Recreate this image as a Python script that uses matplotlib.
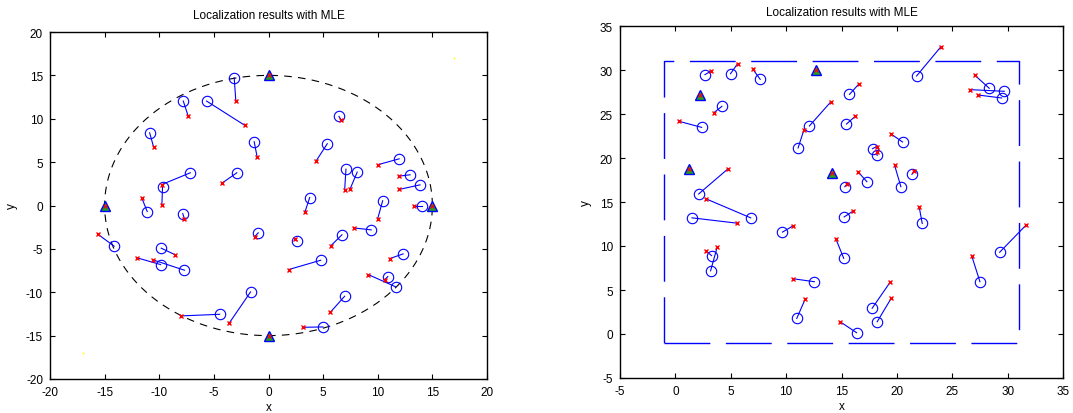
import numpy as np
import matplotlib
matplotlib.use("Agg")
import matplotlib.pyplot as plt

plt.rcParams['font.family'] = ['Liberation Sans', 'DejaVu Sans']
plt.rcParams['font.size'] = 8.5
plt.rcParams['axes.unicode_minus'] = False
plt.rcParams['lines.scale_dashes'] = False

# Left scenario: anchors on a circle of radius 15
circle_radius = 15
left_anchor_x = [-15, 0, 15, 0]
left_anchor_y = [0, 15, 0, -15]
left_corner_x = [-17, 17]
left_corner_y = [-17, 17]

# node positions (circles) and MLE estimates (crosses)
left_node_x = [-3.14, -7.8, -5.67, -10.88, -1.31, -7.16, -9.7, -2.9, -11.1, -7.85,
               -0.94, -14.13, -9.82, -9.88, -7.69, -1.64, -4.47, 6.45, 5.38, 11.96,
               7.09, 8.12, 12.96, 13.87, 3.77, 10.45, 14.06, 9.4, 6.72, 2.62,
               4.78, 12.32, 10.92, 11.65, 6.97, 4.99]
left_node_y = [14.73, 12.04, 12.04, 8.38, 7.35, 3.77, 2.1, 3.77, -0.7, -0.94,
               -3.15, -4.69, -4.92, -6.81, -7.46, -9.96, -12.54, 10.27, 7.12, 5.38,
               4.19, 3.85, 3.54, 2.38, 0.92, 0.55, 0.0, -2.81, -3.38, -4.08,
               -6.31, -5.58, -8.19, -9.38, -10.46, -14.0]
left_est_x = [-2.99, -7.35, -2.16, -10.52, -1.04, -9.76, -9.76, -4.3, -11.6, -7.7,
              -1.28, -15.62, -8.6, -12.0, -10.58, -3.62, -8.05, 6.66, 4.35, 9.98,
              6.97, 7.45, 11.9, 11.96, 3.35, 10.0, 13.36, 7.79, 5.72, 2.4,
              1.86, 11.1, 10.65, 9.13, 5.66, 3.13]
left_est_y = [12.04, 10.3, 9.23, 6.77, 5.6, 2.42, 0.1, 2.54, 0.88, -1.5,
              -3.62, -3.31, -5.65, -6.04, -6.27, -13.6, -12.73, 9.85, 5.12, 4.69,
              1.77, 1.85, 3.38, 1.85, -0.7, -1.5, 0.0, -2.58, -4.62, -3.85,
              -7.38, -6.12, -8.54, -7.96, -12.31, -14.04]

# Right scenario: anchors inside a 32 x 32 region
region_lo, region_hi = -1, 31
right_anchor_x = [12.73, 2.25, 1.26, 14.11]
right_anchor_y = [29.96, 27.16, 18.71, 18.26]

right_node_x = [2.67, 4.98, 7.66, 4.2, 2.37, 12.1, 11.08, 2.1, 6.8, 1.5,
                15.3, 21.78, 15.72, 15.45, 28.34, 29.7, 29.46, 20.51, 17.8, 18.22,
                17.29, 20.36, 21.36, 15.24, 22.29, 9.67, 3.27, 3.18, 12.55, 10.96,
                15.2, 29.28, 27.5, 17.77, 18.22, 16.36]
right_node_y = [29.47, 29.58, 28.94, 25.87, 23.48, 23.64, 21.14, 15.91, 13.2, 13.2,
                16.74, 29.32, 27.23, 23.86, 27.92, 27.58, 26.82, 21.82, 21.06, 20.3,
                17.31, 16.74, 18.14, 13.3, 12.56, 11.58, 8.91, 7.18, 5.94, 1.77,
                8.6, 9.29, 5.94, 2.93, 1.39, 0.15]
right_est_x = [3.24, 5.62, 7.0, 3.48, 0.33, 14.05, 11.59, 4.77, 2.73, 5.6,
               15.5, 23.98, 16.54, 16.23, 27.02, 26.57, 27.32, 19.43, 18.19, 18.19,
               16.48, 19.79, 21.54, 16.08, 22.02, 10.63, 2.73, 3.78, 10.63, 11.74,
               14.5, 31.66, 26.75, 19.4, 19.49, 14.88]
right_est_y = [29.89, 30.72, 30.08, 25.15, 24.17, 26.4, 23.14, 18.79, 15.38, 12.59,
               17.05, 32.65, 28.37, 24.73, 29.43, 27.77, 27.16, 22.77, 21.29, 20.68,
               18.45, 19.2, 18.56, 14.0, 14.4, 12.29, 9.47, 9.89, 6.28, 4.02,
               10.79, 12.37, 8.91, 5.9, 4.06, 1.39]


def draw_results(ax, node_x, node_y, est_x, est_y, anchor_x, anchor_y):
    # error line from each node to its estimate
    for cx, cy, ex, ey in zip(node_x, node_y, est_x, est_y):
        ax.plot([cx, ex], [cy, ey], '-', color='blue', lw=0.8)
    ax.plot(node_x, node_y, 'o', mfc='none', mec='blue', ms=7.5, mew=0.8)
    ax.plot(est_x, est_y, 'x', color='red', ms=3.5, mew=1.0)
    # anchors: green triangle with a red cross on top
    ax.plot(anchor_x, anchor_y, '^', mfc='#20a020', mec='blue', ms=7, mew=1.0)
    ax.plot(anchor_x, anchor_y, 'x', color='red', ms=3, mew=0.8)


def style_axes(ax, lim, ticks, title_pad):
    ax.set_xlim(lim)
    ax.set_ylim(lim)
    ax.set_xticks(ticks)
    ax.set_yticks(ticks)
    ax.tick_params(direction='in', length=3.5, width=0.8, top=True, right=True,
                   labelsize=8.5, pad=5)
    for s in ax.spines.values():
        s.set_linewidth(1.0)
    ax.set_title('Localization results with MLE', fontsize=8.5, pad=title_pad)
    ax.set_xlabel('x', fontsize=8.5, labelpad=2)
    ax.set_ylabel('y', fontsize=8.5, labelpad=6)


fig = plt.figure(figsize=(10.73, 4.14), dpi=100)

# Left plot
ax1 = fig.add_axes([50 / 1073, 34 / 414, 437 / 1073, 347 / 414])
theta = np.linspace(0, 2 * np.pi, 400)
ax1.plot(circle_radius * np.cos(theta), circle_radius * np.sin(theta), '--',
         color='black', lw=0.8, dashes=(5.5, 4.5))
draw_results(ax1, left_node_x, left_node_y, left_est_x, left_est_y,
             left_anchor_x, left_anchor_y)
ax1.plot(left_corner_x, left_corner_y, '+', color='yellow', ms=2, mew=0.6)
style_axes(ax1, (-20, 20), np.arange(-20, 21, 5), 10)

# Right plot
ax2 = fig.add_axes([620 / 1073, 35 / 414, 443 / 1073, 352 / 414])
rect_x = [region_lo, region_hi, region_hi, region_lo, region_lo]
rect_y = [region_lo, region_lo, region_hi, region_hi, region_lo]
ax2.plot(rect_x, rect_y, '--', color='blue', lw=1.0, dashes=(33, 11.2))
draw_results(ax2, right_node_x, right_node_y, right_est_x, right_est_y,
             right_anchor_x, right_anchor_y)
style_axes(ax2, (-5, 35), np.arange(-5, 36, 5), 8)

fig.savefig('out.png', dpi=100)
